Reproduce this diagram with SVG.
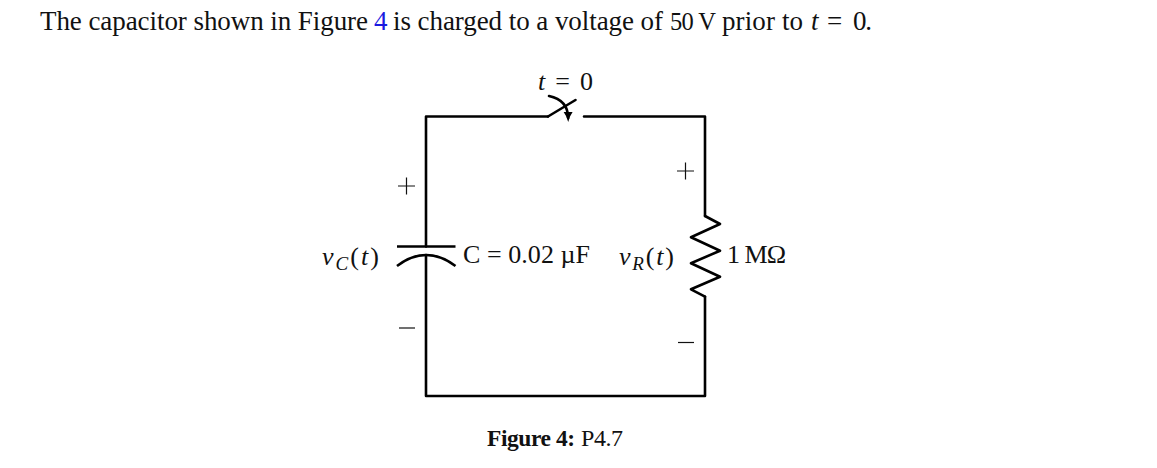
<svg xmlns="http://www.w3.org/2000/svg" width="1157" height="468" viewBox="0 0 1157 468">
<defs>
<marker id="tip" markerUnits="userSpaceOnUse" markerWidth="14" markerHeight="12" refX="6" refY="5" orient="auto">
<path d="M0 0.500 Q4 3.500 10 5 Q4 6.500 0 9.500 Z" fill="#000"/>
</marker>
</defs>
<style>
text{font-family:"Liberation Serif","DejaVu Serif",serif;font-size:27px;fill:#111}
.m{font-size:26px}
.i{font-style:italic}
.s{font-size:19px}
.w{fill:none;stroke:#000;stroke-width:2.6;stroke-linejoin:round;stroke-linecap:round}
.b{stroke-linecap:butt}
.p{fill:none;stroke:#111;stroke-width:1.2}
</style>
<rect width="1157" height="468" fill="#fff"/>
<g id="intro">
<text x="40" y="30" textLength="328">The capacitor shown in Figure</text>
<text x="374" y="30" style="fill:#1a1ae0">4</text>
<text x="393" y="30" textLength="270">is charged to a voltage of</text>
<text x="670" y="30" style="font-size:24.500px" textLength="46">50 V</text>
<text x="722" y="30" textLength="81">prior to</text>
<text x="811" y="30" class="i">t</text>
<text x="827" y="30">=</text>
<text x="853" y="30" textLength="19">0.</text>
</g>
<g id="connectors">
<path class="w" d="M548 116.500H426V246.500"/>
<path class="w" d="M426 255V396H705V296.700"/>
<path class="w" d="M705 216V116.500H584"/>
</g>
<g id="switch">
<path class="w" d="M548 116.500L575.500 100"/>
<path class="w" d="M549 96Q568 100 568.200 118" marker-end="url(#tip)"/>
<text class="m" x="538" y="90" textLength="55"><tspan class="i">t</tspan> = 0</text>
</g>
<g id="capacitor">
<path class="w b" d="M397 246.500H455.500"/>
<path class="w b" d="M397 266Q426 244 455.500 266"/>
<text class="m" x="322" y="265" textLength="57"><tspan class="i">v</tspan><tspan class="i s" dy="5">C</tspan><tspan dy="-5">(</tspan><tspan class="i">t</tspan>)</text>
<text class="m" x="463" y="263" textLength="127">C = 0.02 µF</text>
<path class="p" d="M398 186H415M406.500 177.500V194.500"/>
<path class="p" d="M399 328H415"/>
</g>
<g id="resistor">
<path class="w" d="M705 216L720 224L691 237.300L720 250.700L691 263.300L720 276.700L691 289.300L705 296.700"/>
<text class="m" x="619" y="265" textLength="55"><tspan class="i">v</tspan><tspan class="i s" dy="5">R</tspan><tspan dy="-5">(</tspan><tspan class="i">t</tspan>)</text>
<text class="m" x="727" y="263" textLength="59">1 MΩ</text>
<path class="p" d="M677 171H694M685.500 162.500V179.500"/>
<path class="p" d="M678 342.500H694"/>
</g>
<g id="caption">
<text x="487" y="446" style="font-size:23.500px;font-weight:bold" textLength="88">Figure 4:</text>
<text x="581" y="446" style="font-size:24px" textLength="42">P4.7</text>
</g>
</svg>
